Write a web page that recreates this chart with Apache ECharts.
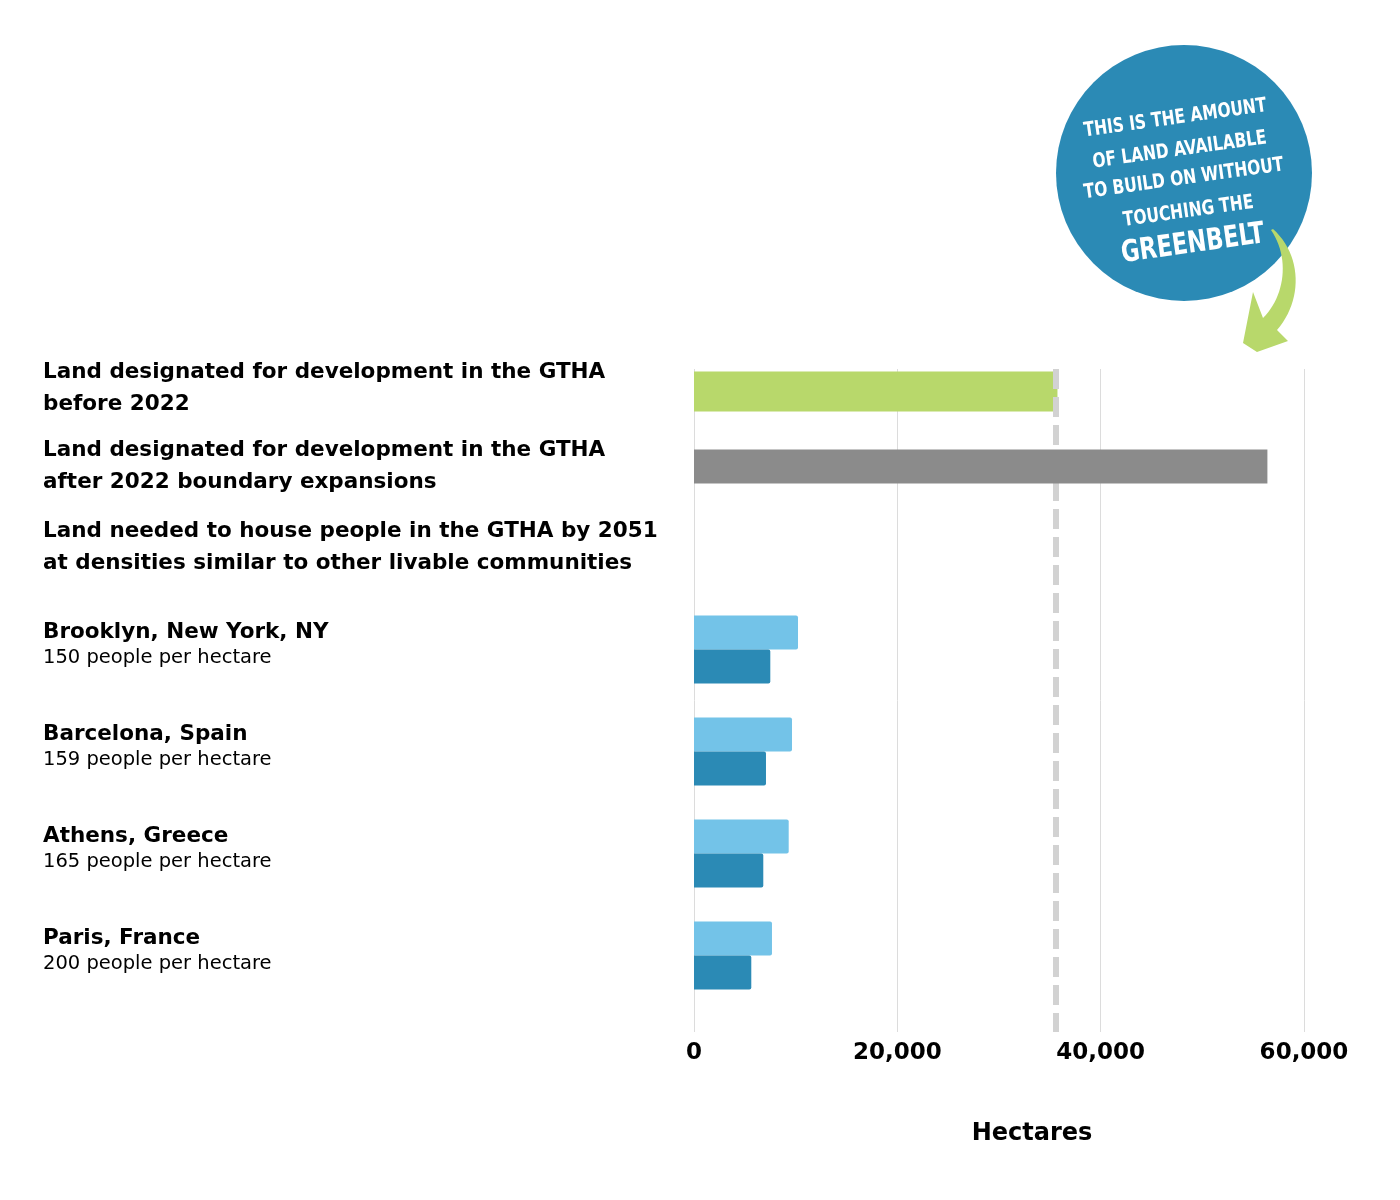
<!DOCTYPE html>
<html><head><meta charset="utf-8">
<script src="https://cdn.jsdelivr.net/npm/echarts@6/dist/echarts.min.js"></script>
<style>html,body{margin:0;padding:0;background:#fff}#c{width:1400px;height:1200px}</style>
</head><body><div id="c"></div>
<script>
// ---- data ----
const designatedLabels = [
  'Land designated for development in the GTHA\nbefore 2022',
  'Land designated for development in the GTHA\nafter 2022 boundary expansions'
];
const designatedValues = [35750, 56400];
const neededLabel = 'Land needed to house people in the GTHA by 2051\nat densities similar to other livable communities';
const cityNames = ['Brooklyn, New York, NY', 'Barcelona, Spain', 'Athens, Greece', 'Paris, France'];
const cityDensities = ['150 people per hectare', '159 people per hectare', '165 people per hectare', '200 people per hectare'];
const cityValuesLight = [10230, 9640, 9315, 7670];
const cityValuesDark = [7505, 7080, 6815, 5635];
const greenbeltLimit = 35600;
const xTickValues = [0, 20000, 40000, 60000];
const bubbleLines = ['THIS IS THE AMOUNT', 'OF LAND AVAILABLE', 'TO BUILD ON WITHOUT', 'TOUCHING THE', 'GREENBELT'];

// ---- layout of category slots ----
const FONT = "'DejaVu Sans', sans-serif";
const slotsA = 17, slotsB = 13;
const idxA = [0, 2];
const idxNeeded = 3;
const idxCities = [5, 7, 9, 11];

const catsA = Array.from({length: slotsA}, (_, i) => 'a' + i);
const catsB = Array.from({length: slotsB}, (_, i) => 'b' + i);
const blankA = () => Array(slotsA).fill('-');
const blankB = () => Array(slotsB).fill('-');

const greenData = blankA(); greenData[idxA[0]] = designatedValues[0];
const grayData = blankA(); grayData[idxA[1]] = designatedValues[1];
const lightData = blankB(); const darkData = blankB();
idxCities.forEach((s, i) => { lightData[s] = cityValuesLight[i]; darkData[s] = cityValuesDark[i]; });

function boldLines(t) { return t.split('\n').map(l => '{b|' + l + '}').join('\n'); }
const labelsA = Array(slotsA).fill('');
idxA.forEach((s, i) => labelsA[s] = boldLines(designatedLabels[i]));
const labelsB = Array(slotsB).fill('');
labelsB[idxNeeded] = boldLines(neededLabel);
idxCities.forEach((s, i) => labelsB[s] = '{n|' + cityNames[i] + '}\n{s|' + cityDensities[i] + '}');

const rich = {
  b: {fontFamily: FONT, fontWeight: 'bold', fontSize: 21.5, lineHeight: 32, color: '#000'},
  n: {fontFamily: FONT, fontWeight: 'bold', fontSize: 21.5, lineHeight: 17, color: '#000'},
  s: {fontFamily: FONT, fontWeight: 'normal', fontSize: 19.5, lineHeight: 35, color: '#000'}
};
const GRID_LEFT = 694;
function catAxis(data, labels) {
  return {
    type: 'category', data: data, inverse: true, position: 'left', gridIndex: 0,
    axisLine: {show: false}, axisTick: {show: false}, splitLine: {show: false},
    axisLabel: {
      interval: 0, align: 'left', margin: GRID_LEFT - 43,
      formatter: (v, i) => labels[i], rich: rich
    }
  };
}

// decorative arrow outline (sampled cubic curves)
function cubic(p0, p1, p2, p3, n) {
  const pts = [];
  for (let k = 0; k <= n; k++) {
    const t = k / n, u = 1 - t;
    pts.push([
      u*u*u*p0[0] + 3*u*u*t*p1[0] + 3*u*t*t*p2[0] + t*t*t*p3[0],
      u*u*u*p0[1] + 3*u*u*t*p1[1] + 3*u*t*t*p2[1] + t*t*t*p3[1]
    ]);
  }
  return pts;
}
const arrowPts = [].concat(
  cubic([1273, 229], [1302, 255], [1303, 300], [1277, 330], 24),
  [[1288, 341], [1257, 352], [1243, 343], [1253, 292]],
  cubic([1263, 318], [1285, 296], [1290, 258], [1271, 230], 24)
);

const BFONT = "'DejaVu Sans Condensed', 'DejaVu Sans', sans-serif";
function bubbleText(t, y, size, sx) {
  return {type: 'text', x: 0, y: y, z: 12, scaleX: sx,
    style: {text: t, fill: '#fff', font: 'bold ' + size + 'px ' + BFONT, textAlign: 'center', textVerticalAlign: 'middle'}};
}

const chart = echarts.init(document.getElementById('c'), null, {renderer: 'canvas'});
chart.setOption({
  backgroundColor: '#fff',
  animation: false,
  grid: {left: GRID_LEFT, right: 96, top: 369, height: 663, containLabel: false},
  xAxis: {
    type: 'value', min: xTickValues[0], max: xTickValues[xTickValues.length - 1], interval: 20000,
    position: 'bottom',
    axisLine: {show: false}, axisTick: {show: false},
    splitLine: {show: true, lineStyle: {color: '#dcdcdc', width: 1}},
    axisLabel: {margin: 10, color: '#000', fontFamily: FONT, fontWeight: 'bold', fontSize: 23,
      formatter: v => v.toLocaleString('en-US')},
    name: 'Hectares', nameLocation: 'middle', nameGap: 90,
    nameTextStyle: {color: '#000', fontFamily: FONT, fontWeight: 'bold', fontSize: 24, padding: [0, 0, 0, 66]}
  },
  yAxis: [catAxis(catsA, labelsA), catAxis(catsB, labelsB)],
  series: [
    {
      name: 'Before 2022', type: 'bar', yAxisIndex: 0, data: greenData,
      barMinWidth: 40, barGap: '-100%', z: 2,
      itemStyle: {color: '#b8d86b'},
      markLine: {
        silent: true, symbol: ['none', 'none'], z: 4,
        label: {show: false},
        lineStyle: {color: '#d2d2d2', width: 6, type: [20, 8]},
        data: [{xAxis: greenbeltLimit}]
      }
    },
    {
      name: 'After 2022 boundary expansions', type: 'bar', yAxisIndex: 0, data: grayData,
      barMinWidth: 34, barGap: '-100%', z: 6,
      itemStyle: {color: '#8b8b8b'}
    },
    {
      name: 'Land needed (higher)', type: 'bar', yAxisIndex: 1, data: lightData,
      barMinWidth: 34, barGap: '0%',
      itemStyle: {color: '#73c3e8', borderRadius: [0, 2, 2, 0]}
    },
    {
      name: 'Land needed (lower)', type: 'bar', yAxisIndex: 1, data: darkData,
      barMinWidth: 34, barGap: '0%',
      itemStyle: {color: '#2b8ab5', borderRadius: [0, 2, 2, 0]}
    }
  ],
  graphic: [
    {type: 'circle', shape: {cx: 1184, cy: 173, r: 128}, style: {fill: '#2b8ab5'}, z: 10},
    {type: 'polygon', shape: {points: arrowPts}, style: {fill: '#b8d86b'}, z: 11},
    {
      type: 'group', x: 1184, y: 181, rotation: 8 * Math.PI / 180, z: 12,
      children: [
        bubbleText(bubbleLines[0], -63, 20, 0.86),
        bubbleText(bubbleLines[1], -31, 20, 0.86),
        bubbleText(bubbleLines[2], -2, 20, 0.86),
        bubbleText(bubbleLines[3], 31, 20, 0.86),
        bubbleText(bubbleLines[4], 64, 30, 0.84)
      ]
    }
  ]
});
</script>
</body></html>
